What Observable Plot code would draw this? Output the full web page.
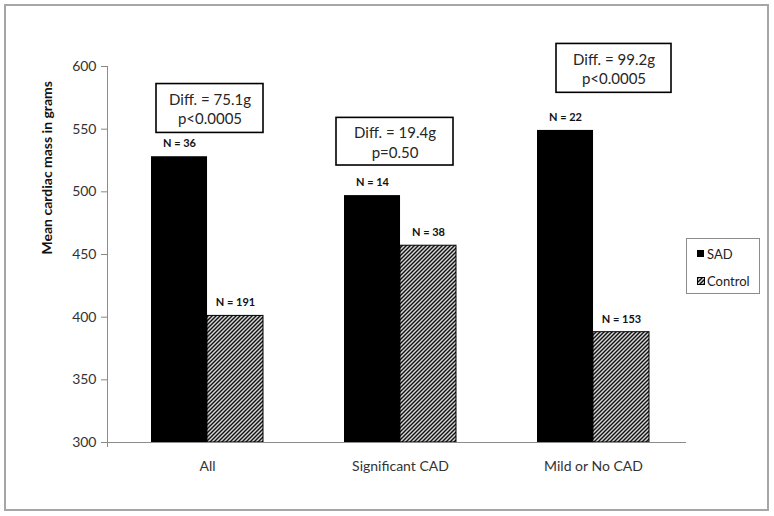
<!DOCTYPE html>
<html>
<head>
<meta charset="utf-8">
<script src="https://cdn.jsdelivr.net/npm/d3@7"></script>
<script src="https://cdn.jsdelivr.net/npm/@observablehq/plot@0.6"></script>
<style>
  html, body { margin: 0; padding: 0; background: #fff; }
  #wrap { position: relative; width: 774px; height: 516px; overflow: hidden; }
  #border { position: absolute; left: 4px; top: 4px; width: 765px; height: 507px; box-sizing: border-box; border: 2px solid #a6a6a6; pointer-events: none; }
  #chart svg { position: absolute; left: 0; top: 0; }
</style>
</head>
<body>
<div id="wrap"><div id="chart"></div><div id="border"></div></div>
<script>
// ---- data ----
const categories = ["All", "Significant CAD", "Mild or No CAD"];
const series = ["SAD", "Control"];
const sadMass = [528, 497, 549];
const controlMass = [401, 457, 388];
const sadN = [36, 14, 22];
const controlN = [191, 38, 153];
const diffLabels = ["Diff. = 75.1g", "Diff. = 19.4g", "Diff. = 99.2g"];
const pLabels = ["p<0.0005", "p=0.50", "p<0.0005"];
const yTicks = [300, 350, 400, 450, 500, 550, 600];
const yDomain = [300, 600];

// ---- tables built from the arrays ----
const sadRows = categories.map((c, i) => ({category: c, series: series[0], value: sadMass[i], n: sadN[i]}));
const ctrlRows = categories.map((c, i) => ({category: c, series: series[1], value: controlMass[i], n: controlN[i]}));

// annotation box placement (layout, in y units, plus horizontal insets)
const boxLayout = [
  {y1: 547, y2: 586, insetLeft: 5, insetRight: 0},
  {y1: 521, y2: 559, insetLeft: -8, insetRight: 3},
  {y1: 579, y2: 618, insetLeft: 19, insetRight: -22}
];

const W = 774, H = 516;
const xRange = [110, 689];
const padIn = 0.42, padOut = 0.21;
const step = (xRange[1] - xRange[0]) / categories.length;
const bw = step * (1 - padIn);
const half = bw / 2;

const boxMarks = [];
categories.forEach((c, i) => {
  const b = boxLayout[i];
  const row = [{category: c, y1: b.y1, y2: b.y2, text: diffLabels[i] + "\n" + pLabels[i]}];
  boxMarks.push(Plot.barY(row, {x: "category", y1: "y1", y2: "y2", fill: "white", stroke: "black", strokeWidth: 1.6,
    insetLeft: b.insetLeft, insetRight: b.insetRight, clip: false}));
  boxMarks.push(Plot.text(row, {x: "category", y: d => (d.y1 + d.y2) / 2, text: "text", dx: (b.insetLeft - b.insetRight) / 2,
    fontSize: 15, lineHeight: 1.3, fill: "#262626", clip: false}));
});

const plot = Plot.plot({
  width: W, height: H,
  marginLeft: 107, marginRight: 88, marginTop: 66, marginBottom: 74,
  style: {fontFamily: "Lato, 'Open Sans', sans-serif", background: "transparent", overflow: "visible"},
  x: {domain: categories, range: xRange, paddingInner: padIn, paddingOuter: padOut},
  y: {domain: yDomain},
  marks: [
    Plot.axisY({ticks: yTicks, tickSize: 6, tickPadding: 5, fontSize: 14, fill: "#333", stroke: "#888", label: null}),
    Plot.axisX({tickSize: 0, tickPadding: 19, fontSize: 14, fill: "#333", label: null}),
    Plot.text(["Mean cardiac mass in grams"], {frameAnchor: "left", dx: -60, rotate: -90, fontWeight: "bold", fontSize: 14, fill: "#111"}),
    Plot.barY(sadRows, {x: "category", y1: () => yDomain[0], y2: "value", fill: "black", insetRight: half}),
    Plot.barY(ctrlRows, {x: "category", y1: () => yDomain[0], y2: "value", fill: "url(#hatch)", stroke: "black", strokeWidth: 1, insetLeft: half}),
    Plot.ruleY([yDomain[0]], {stroke: "#8c8c8c", strokeWidth: 1}),
    Plot.text(sadRows, {x: "category", y: "value", text: d => "N = " + d.n, dx: -half / 2, dy: -13, fontWeight: "bold", fontSize: 11, fill: "#111"}),
    Plot.text(ctrlRows, {x: "category", y: "value", text: d => "N = " + d.n, dx: half / 2, dy: -13, fontWeight: "bold", fontSize: 11, fill: "#111"}),
    ...boxMarks
  ]
});

document.getElementById("chart").appendChild(plot);

// pattern + axis line + legend
const svg = d3.select(plot);
const defs = svg.insert("defs", ":first-child");
const pat = defs.append("pattern").attr("id", "hatch").attr("patternUnits", "userSpaceOnUse")
  .attr("width", 4).attr("height", 4);
pat.append("rect").attr("width", 4).attr("height", 4).attr("fill", "#d6d6d6");
pat.append("path").attr("d", "M-1,1 l2,-2 M0,4 l4,-4 M3,5 l2,-2").attr("stroke", "#111").attr("stroke-width", 1.4);

const ys = plot.scale("y");
svg.append("line").attr("x1", 107.5).attr("x2", 107.5)
  .attr("y1", ys.range[1]).attr("y2", ys.range[0] + 5)
  .attr("stroke", "#8c8c8c").attr("stroke-width", 1);

const lg = svg.append("g").attr("font-family", "Lato, 'Open Sans', sans-serif").attr("font-size", 13)
  .attr("fill", "#222").attr("text-anchor", "start");
lg.append("rect").attr("x", 686.5).attr("y", 238.5).attr("width", 73).attr("height", 55)
  .attr("fill", "white").attr("stroke", "#8c8c8c");
lg.append("rect").attr("x", 697).attr("y", 250).attr("width", 7).attr("height", 7).attr("fill", "black");
lg.append("text").attr("x", 707).attr("y", 254).attr("dy", "0.35em").attr("text-anchor", "start").text(series[0]);
lg.append("rect").attr("x", 697.5).attr("y", 277.5).attr("width", 7).attr("height", 7).attr("fill", "url(#hatch)").attr("stroke", "black");
lg.append("text").attr("x", 707).attr("y", 281).attr("dy", "0.35em").attr("text-anchor", "start").text(series[1]);
</script>
</body>
</html>
